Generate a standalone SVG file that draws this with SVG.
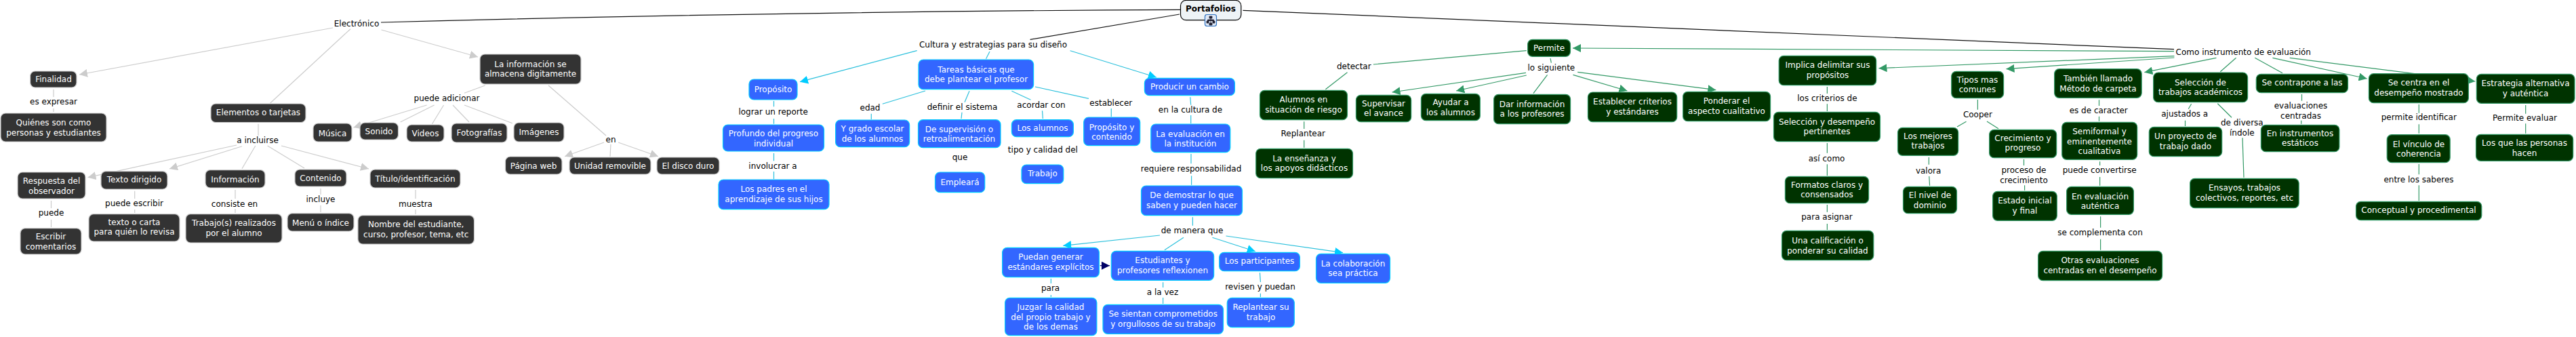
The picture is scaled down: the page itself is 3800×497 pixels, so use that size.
<svg xmlns="http://www.w3.org/2000/svg" width="3800" height="497" viewBox="0 0 3800 497">
<style>
text{font-family:"DejaVu Sans",Verdana,sans-serif;font-size:12px;text-anchor:middle;dominant-baseline:central}
.n rect{rx:7px;ry:7px;stroke-width:1.2}
.k rect{fill:#333;stroke:#ccc}.k text{fill:#fff}
.b rect{fill:#36f;stroke:#0cf}.b text{fill:#fff}
.g rect{fill:#030;stroke:#396}.g text{fill:#fff}
.l text{fill:#000}
#c line,#c path{fill:none;stroke-width:1.2}
.ck{stroke:#ccc}.cb{stroke:#2bc0dc}.cg{stroke:#396}.cp{stroke:#111}
.ak{marker-end:url(#ak)}.ab{marker-end:url(#ab)}.ag{marker-end:url(#ag)}
</style>
<defs>
<marker id="ak" markerUnits="userSpaceOnUse" markerWidth="13" markerHeight="12" refX="12" refY="6" orient="auto"><path d="M0 0L12 6L0 12z" fill="#ccc"/></marker>
<marker id="ab" markerUnits="userSpaceOnUse" markerWidth="13" markerHeight="12" refX="12" refY="6" orient="auto"><path d="M0 0L12 6L0 12z" fill="#0cf"/></marker>
<marker id="ag" markerUnits="userSpaceOnUse" markerWidth="13" markerHeight="12" refX="12" refY="6" orient="auto"><path d="M0 0L12 6L0 12z" fill="#396"/></marker>
<marker id="an" markerUnits="userSpaceOnUse" markerWidth="13" markerHeight="12" refX="12" refY="6" orient="auto"><path d="M0 0L12 6L0 12z" fill="#006"/></marker>
</defs>
<g id="c">
<path class="cp" d="M1741 14.3Q1150 17 562 33"/>
<line class="cp" x1="1740" y1="21" x2="1519.6" y2="58.3"/>
<path class="cp" d="M1833.5 15.3Q2500 42 3207 72.7"/>
<line class="ck ak" x1="491" y1="41" x2="117" y2="110"/>
<line class="ck" x1="517" y1="42.7" x2="398.7" y2="152"/>
<line class="ck ak" x1="562.5" y1="44" x2="705" y2="84"/>
<line class="ck" x1="79" y1="132" x2="79" y2="143"/>
<line class="ck" x1="79" y1="160" x2="79" y2="165"/>
<line class="ck" x1="381" y1="182.7" x2="381" y2="200"/>
<line class="ck ak" x1="349" y1="214" x2="129.5" y2="261.7"/>
<line class="ck ak" x1="357" y1="215.7" x2="250" y2="249"/>
<line class="ck" x1="376.8" y1="215" x2="357" y2="248.7"/>
<line class="ck" x1="394.6" y1="215" x2="449" y2="248"/>
<line class="ck ak" x1="415" y1="215" x2="544" y2="249"/>
<line class="ck ak" x1="629.5" y1="155" x2="521.4" y2="188"/>
<line class="ck" x1="640.6" y1="155" x2="590.6" y2="180"/>
<line class="ck" x1="654.5" y1="155" x2="637.5" y2="182.7"/>
<line class="ck" x1="668" y1="155" x2="692" y2="180"/>
<line class="ck" x1="685" y1="155" x2="755.8" y2="181.7"/>
<line class="ck" x1="685" y1="137.3" x2="715.6" y2="126"/>
<line class="ck" x1="809" y1="126" x2="894" y2="200"/>
<line class="ck ak" x1="891" y1="210" x2="833" y2="230.7"/>
<line class="ck" x1="901" y1="212.7" x2="900" y2="230.7"/>
<line class="ck ak" x1="912" y1="210" x2="971" y2="230.7"/>
<line class="ck" x1="75.5" y1="296" x2="75.5" y2="307"/>
<line class="ck" x1="75.5" y1="324" x2="75.5" y2="335"/>
<line class="ck" x1="198.7" y1="281.7" x2="198.7" y2="293"/>
<line class="ck" x1="198.7" y1="309" x2="198.7" y2="314"/>
<line class="ck" x1="347" y1="280" x2="347" y2="293"/>
<line class="ck" x1="347" y1="308" x2="347" y2="314"/>
<line class="ck" x1="473" y1="278" x2="473" y2="287"/>
<line class="ck" x1="473" y1="303" x2="473" y2="313"/>
<line class="ck" x1="613" y1="280" x2="613" y2="293"/>
<line class="ck" x1="613" y1="309" x2="613" y2="316"/>

<line class="cb ab" x1="1352.7" y1="74.7" x2="1180" y2="120.7"/>
<line class="cb" x1="1460" y1="76" x2="1454.5" y2="86.7"/>
<line class="cb ab" x1="1578.6" y1="74.7" x2="1705.8" y2="114"/>
<line class="cb" x1="1141.5" y1="149" x2="1141.5" y2="157.3"/>
<line class="cb" x1="1141.5" y1="175" x2="1141.5" y2="182.7"/>
<line class="cb" x1="1141.5" y1="226" x2="1141.5" y2="237.3"/>
<line class="cb" x1="1141.5" y1="253" x2="1141.5" y2="264"/>
<line class="cb" x1="1365" y1="134" x2="1301.8" y2="153.3"/>
<line class="cb" x1="1285.3" y1="167.7" x2="1285.3" y2="176"/>
<line class="cb" x1="1430" y1="134.3" x2="1423" y2="150.7"/>
<line class="cb" x1="1419" y1="165.7" x2="1418" y2="175"/>
<line class="cb" x1="1492.4" y1="134.3" x2="1520.5" y2="147.3"/>
<line class="cb" x1="1537.5" y1="163.3" x2="1538.4" y2="175"/>
<line class="cb" x1="1527" y1="128" x2="1606" y2="145.3"/>
<line class="cb" x1="1639.3" y1="160" x2="1639.3" y2="172"/>
<line class="cb" x1="1755.8" y1="143.3" x2="1756.7" y2="154.7"/>
<line class="cb" x1="1756.7" y1="170" x2="1756.7" y2="182"/>
<line class="cb" x1="1757" y1="227" x2="1757" y2="241.3"/>
<line class="cb" x1="1757.6" y1="259.3" x2="1757.6" y2="272.7"/>
<line class="cb" x1="1759.4" y1="320.3" x2="1759.4" y2="332.7"/>
<line class="cb ab" x1="1711" y1="347" x2="1568.3" y2="362.3"/>
<line class="cb" x1="1746" y1="350.3" x2="1717.9" y2="368.7"/>
<line class="cb ab" x1="1788.4" y1="350.3" x2="1851.8" y2="370.7"/>
<line class="cb ab" x1="1808.5" y1="348" x2="1981" y2="372.7"/>
<line class="cb" x1="1715.6" y1="416.3" x2="1715.6" y2="424"/>
<line class="cb" x1="1715.6" y1="439" x2="1715.6" y2="448"/>
<line class="cb" x1="1550.4" y1="411" x2="1550.4" y2="418"/>
<line class="cb" x1="1550.4" y1="435" x2="1550.4" y2="438"/>
<line x1="1622.8" y1="391.7" x2="1637" y2="391.7" style="stroke:#006;marker-end:url(#an)"/>
<line class="cb" x1="1858.5" y1="402.3" x2="1859.4" y2="416"/>
<line class="cb" x1="1859.4" y1="432.7" x2="1859.4" y2="438"/>

<line class="cg ag" x1="3207" y1="75.7" x2="2320" y2="71"/>
<line class="cg" x1="2251.8" y1="74.7" x2="2025.9" y2="95"/>
<line class="cg" x1="1987.5" y1="106.7" x2="1955.4" y2="131.7"/>
<line class="cg" x1="1923.7" y1="179.3" x2="1923.7" y2="190"/>
<line class="cg" x1="1923.7" y1="206.7" x2="1923.7" y2="217.7"/>
<line class="cg" x1="2287" y1="86" x2="2288.4" y2="92.7"/>
<line class="cg ag" x1="2250.9" y1="107.3" x2="2053.6" y2="136"/>
<line class="cg ag" x1="2251.8" y1="111" x2="2148.2" y2="134"/>
<line class="cg" x1="2282.6" y1="110.3" x2="2262" y2="137.7"/>
<line class="cg ag" x1="2320.5" y1="110.3" x2="2400.4" y2="134"/>
<line class="cg ag" x1="2327.2" y1="106.3" x2="2531.3" y2="132.7"/>
<line class="cg ag" x1="3207.4" y1="82.7" x2="2771.5" y2="100.7"/>
<line class="cg ag" x1="3207.4" y1="85" x2="2959.5" y2="101.7"/>
<line class="cg ag" x1="3269.4" y1="85.3" x2="3163.4" y2="106.7"/>
<line class="cg" x1="3298.6" y1="85.3" x2="3275.3" y2="105.7"/>
<line class="cg" x1="3326.3" y1="85.3" x2="3367" y2="107.7"/>
<line class="cg ag" x1="3352.4" y1="85.3" x2="3491.6" y2="116"/>
<line class="cg ag" x1="3377.7" y1="85.3" x2="3651.3" y2="120"/>
<line class="cg" x1="2695.4" y1="128" x2="2695.4" y2="138"/>
<line class="cg" x1="2695.4" y1="153.3" x2="2695.4" y2="164"/>
<line class="cg" x1="2695.4" y1="211" x2="2695.4" y2="225.7"/>
<line class="cg" x1="2695.4" y1="242.3" x2="2695.4" y2="259"/>
<line class="cg" x1="2695.4" y1="302" x2="2695.4" y2="312.7"/>
<line class="cg" x1="2695.4" y1="330" x2="2695.4" y2="339"/>
<line class="cg" x1="2917.4" y1="147" x2="2917.4" y2="161.7"/>
<line class="cg" x1="2900.5" y1="179.3" x2="2887" y2="187"/>
<line class="cg" x1="2931" y1="179" x2="2948" y2="189.7"/>
<line class="cg" x1="2845.4" y1="232" x2="2845.4" y2="242.7"/>
<line class="cg" x1="2845.8" y1="260" x2="2846.6" y2="273.7"/>
<line class="cg" x1="2985.5" y1="235" x2="2985.5" y2="244"/>
<line class="cg" x1="2986.6" y1="273.3" x2="2986.6" y2="280.7"/>
<line class="cg" x1="3096.5" y1="147.3" x2="3096.5" y2="156"/>
<line class="cg" x1="3096.5" y1="171.7" x2="3096.5" y2="178.7"/>
<line class="cg" x1="3097.6" y1="238.3" x2="3097.6" y2="244"/>
<line class="cg" x1="3097.6" y1="261" x2="3097.6" y2="273.7"/>
<line class="cg" x1="3098.6" y1="319.3" x2="3098.6" y2="335.7"/>
<line class="cg" x1="3098.6" y1="352.7" x2="3098.6" y2="368.7"/>
<line class="cg" x1="3232.6" y1="153.3" x2="3228.2" y2="160.7"/>
<line class="cg" x1="3223.5" y1="177.7" x2="3223.5" y2="186"/>
<line class="cg" x1="3271.3" y1="152.7" x2="3292" y2="173.3"/>
<line class="cg" x1="3308" y1="203.3" x2="3310" y2="261.7"/>
<line class="cg" x1="3395.5" y1="139" x2="3395.5" y2="148.7"/>
<line class="cg" x1="3394.7" y1="177.7" x2="3394.7" y2="182.7"/>
<line class="cg" x1="3568.3" y1="154" x2="3568.3" y2="166.7"/>
<line class="cg" x1="3568.3" y1="183.3" x2="3568.3" y2="196.7"/>
<line class="cg" x1="3568.3" y1="242" x2="3568.3" y2="257.3"/>
<line class="cg" x1="3568.3" y1="273.3" x2="3568.3" y2="296"/>
<line class="cg" x1="3725.7" y1="155" x2="3725.7" y2="167.7"/>
<line class="cg" x1="3725.7" y1="182.3" x2="3725.7" y2="196.7"/>
</g>

<g id="portafolios"><rect x="1741.5" y="0.5" width="89.3" height="29.2" rx="8" fill="#eef3f6" stroke="#000" stroke-width="1.2"/><text x="1786" y="13" style="font-weight:bold;fill:#000">Portafolios</text>
<g id="icono"><rect x="1777.5" y="21.5" width="17" height="17" rx="3" fill="#dfe8f5" stroke="#2a6fc0" stroke-width="1.2"/><path d="M1784 24h4v3h-4zM1780 31h3v3h-3zM1789 31h3v3h-3zM1784 34h4v3h-4zM1786 27v7M1781.5 31v-2h9v2" fill="#223" stroke="#223" stroke-width=".8"/></g></g>

<g class="n k" id="finalidad"><rect x="44.6" y="105" width="68.4" height="24"/><text x="79" y="116.7">Finalidad</text></g>
<g class="n k" id="quienes"><rect x="1" y="167" width="156" height="42"/><text x="79" y="181">Quiénes son como</text><text x="79" y="195.7">personas y estudiantes</text></g>
<g class="n k" id="elementos"><rect x="311" y="153" width="140" height="27.5"/><text x="381" y="166">Elementos o tarjetas</text></g>
<g class="n k" id="musica"><rect x="462" y="182" width="57" height="27"/><text x="490.5" y="196.7">Música</text></g>
<g class="n k" id="sonido"><rect x="531" y="181" width="56.5" height="25"/><text x="559" y="194">Sonido</text></g>
<g class="n k" id="videos"><rect x="600" y="184" width="55" height="25"/><text x="627.5" y="197">Videos</text></g>
<g class="n k" id="fotografias"><rect x="666" y="182" width="82" height="28"/><text x="707" y="196">Fotografías</text></g>
<g class="n k" id="imagenes"><rect x="758" y="181" width="74" height="28"/><text x="795" y="195">Imágenes</text></g>
<g class="n k" id="informacion-dig"><rect x="708" y="80" width="149" height="44"/><text x="782.5" y="95">La información se</text><text x="782.5" y="109.3">almacena digitamente</text></g>
<g class="n k" id="pagina"><rect x="745.5" y="231" width="83.5" height="26"/><text x="787" y="245">Página web</text></g>
<g class="n k" id="unidad"><rect x="840" y="232" width="120" height="25"/><text x="900" y="245">Unidad removible</text></g>
<g class="n k" id="disco"><rect x="969" y="232" width="92" height="25"/><text x="1015" y="245">El disco duro</text></g>
<g class="n k" id="respuesta"><rect x="26" y="254" width="100" height="39"/><text x="76" y="267">Respuesta del</text><text x="76" y="281.7">observador</text></g>
<g class="n k" id="texto-dirigido"><rect x="149" y="252.7" width="98" height="26.3"/><text x="198" y="265">Texto dirigido</text></g>
<g class="n k" id="informacion"><rect x="303" y="250.7" width="88" height="26.3"/><text x="347" y="264.7">Información</text></g>
<g class="n k" id="contenido"><rect x="435" y="250" width="76" height="25"/><text x="473" y="263">Contenido</text></g>
<g class="n k" id="titulo"><rect x="546" y="250" width="133" height="27"/><text x="612.5" y="263.7">Título/identificación</text></g>
<g class="n k" id="escribir"><rect x="30" y="336.7" width="90" height="38.3"/><text x="75" y="349">Escribir</text><text x="75" y="363.7">comentarios</text></g>
<g class="n k" id="texto-carta"><rect x="131" y="315.7" width="134" height="40.3"/><text x="198" y="327.7">texto o carta</text><text x="198" y="342.3">para quién lo revisa</text></g>
<g class="n k" id="trabajos"><rect x="274" y="315.7" width="142" height="42.3"/><text x="345" y="329">Trabajo(s) realizados</text><text x="345" y="343.7">por el alumno</text></g>
<g class="n k" id="menu"><rect x="424" y="314.7" width="98" height="26.3"/><text x="473" y="328.7">Menú o índice</text></g>
<g class="n k" id="nombre"><rect x="528" y="317.7" width="171.5" height="42.3"/><text x="613.7" y="331">Nombre del estudiante,</text><text x="613.7" y="345.7">curso, profesor, tema, etc</text></g>

<g class="n b" id="proposito"><rect x="1105" y="117" width="71" height="30"/><text x="1140.5" y="131.7">Propósito</text></g>
<g class="n b" id="profundo"><rect x="1066.5" y="184" width="149" height="39"/><text x="1141" y="197">Profundo del progreso</text><text x="1141" y="211.7">individual</text></g>
<g class="n b" id="grado"><rect x="1232.6" y="177" width="109" height="39.7"/><text x="1287" y="190">Y grado escolar</text><text x="1287" y="204.7">de los alumnos</text></g>
<g class="n b" id="padres"><rect x="1060" y="265" width="163" height="43.7"/><text x="1141.5" y="279">Los padres en el</text><text x="1141.5" y="294">aprendizaje de sus hijos</text></g>
<g class="n b" id="tareas"><rect x="1355" y="88" width="169.6" height="43.7"/><text x="1440" y="103">Tareas básicas que</text><text x="1440" y="117.3">debe plantear el profesor</text></g>
<g class="n b" id="supervision"><rect x="1354.5" y="176.7" width="121.5" height="41"/><text x="1415" y="190.7">De supervisión o</text><text x="1415" y="205.3">retroalimentación</text></g>
<g class="n b" id="alumnos"><rect x="1492.4" y="176.7" width="91" height="25"/><text x="1538" y="189">Los alumnos</text></g>
<g class="n b" id="proposito-contenido"><rect x="1598.7" y="173" width="83" height="41.7"/><text x="1640" y="187.7">Propósito y</text><text x="1640" y="202.3">contenido</text></g>
<g class="n b" id="producir"><rect x="1688.4" y="115.3" width="133" height="25.4"/><text x="1755" y="128">Producir un cambio</text></g>
<g class="n b" id="evaluacion-inst"><rect x="1697.8" y="183" width="117" height="41.7"/><text x="1756" y="197.7">La evaluación en</text><text x="1756" y="212.3">la institución</text></g>
<g class="n b" id="trabajo"><rect x="1507" y="243" width="61.8" height="27.7"/><text x="1538" y="256">Trabajo</text></g>
<g class="n b" id="empleara"><rect x="1379.5" y="254" width="73.2" height="29.7"/><text x="1416" y="268.7">Empleará</text></g>
<g class="n b" id="demostrar"><rect x="1683.5" y="274" width="149" height="43.7"/><text x="1758" y="288.3">De demostrar lo que</text><text x="1758" y="302.7">saben y pueden hacer</text></g>
<g class="n b" id="puedan"><rect x="1478.6" y="365.3" width="142.8" height="43.4"/><text x="1550" y="379">Puedan generar</text><text x="1550" y="393.7">estándares explícitos</text></g>
<g class="n b" id="juzgar"><rect x="1482.6" y="439.3" width="135.3" height="55.4"/><text x="1550" y="453">Juzgar la calidad</text><text x="1550" y="467.7">del propio trabajo y</text><text x="1550" y="482.3">de los demas</text></g>
<g class="n b" id="estudiantes"><rect x="1639.3" y="370.3" width="151.3" height="43"/><text x="1715" y="384">Estudiantes y</text><text x="1715" y="398.7">profesores reflexionen</text></g>
<g class="n b" id="sientan"><rect x="1627" y="449.3" width="177.5" height="43"/><text x="1715.7" y="463">Se sientan comprometidos</text><text x="1715.7" y="477.7">y orgullosos de su trabajo</text></g>
<g class="n b" id="participantes"><rect x="1798.7" y="372.3" width="118.7" height="27.4"/><text x="1858" y="384.7">Los participantes</text></g>
<g class="n b" id="replantear-su"><rect x="1810.3" y="439.3" width="99" height="43.4"/><text x="1860" y="453">Replantear su</text><text x="1860" y="467.7">trabajo</text></g>
<g class="n b" id="colaboracion"><rect x="1941.5" y="374.3" width="109" height="43"/><text x="1996" y="389">La colaboración</text><text x="1996" y="403.3">sea práctica</text></g>

<g class="n g" id="alumnos-riesgo"><rect x="1858.5" y="133.3" width="129" height="43.4"/><text x="1923" y="147">Alumnos en</text><text x="1923" y="161.7">situación de riesgo</text></g>
<g class="n g" id="ensenanza"><rect x="1852.7" y="219.3" width="142.8" height="43.4"/><text x="1924" y="233.7">La enseñanza y</text><text x="1924" y="248">los apoyos didácticos</text></g>
<g class="n g" id="supervisar"><rect x="2000.4" y="140.3" width="81.3" height="39.4"/><text x="2041" y="152.7">Supervisar</text><text x="2041" y="167.3">el avance</text></g>
<g class="n g" id="ayudar"><rect x="2096.4" y="138.3" width="87" height="39.4"/><text x="2140" y="151">Ayudar a</text><text x="2140" y="165.7">los alumnos</text></g>
<g class="n g" id="dar-info"><rect x="2203.6" y="139.3" width="113" height="43.4"/><text x="2260" y="153.7">Dar información</text><text x="2260" y="168.3">a los profesores</text></g>
<g class="n g" id="establecer-criterios"><rect x="2342.4" y="136" width="131.3" height="43.7"/><text x="2408" y="150">Establecer criterios</text><text x="2408" y="164.7">y estándares</text></g>
<g class="n g" id="ponderar"><rect x="2482.6" y="135.3" width="129" height="43.4"/><text x="2547" y="149">Ponderar el</text><text x="2547" y="163.7">aspecto cualitativo</text></g>
<g class="n g" id="permite"><rect x="2253.6" y="58.3" width="62.9" height="25"/><text x="2285" y="71.3">Permite</text></g>
<g class="n g" id="implica"><rect x="2624.2" y="82.3" width="143.5" height="43.4"/><text x="2696" y="96">Implica delimitar sus</text><text x="2696" y="110.7">propósitos</text></g>
<g class="n g" id="seleccion-desempeno"><rect x="2616.5" y="165.3" width="157" height="43.4"/><text x="2695" y="179.7">Selección y desempeño</text><text x="2695" y="194.3">pertinentes</text></g>
<g class="n g" id="formatos"><rect x="2633.4" y="260.3" width="123.2" height="39.4"/><text x="2695" y="272.7">Formatos claros y</text><text x="2695" y="287.3">consensados</text></g>
<g class="n g" id="calificacion"><rect x="2628.5" y="340.3" width="135.3" height="43.4"/><text x="2696" y="355">Una calificación o</text><text x="2696" y="369.7">ponderar su calidad</text></g>
<g class="n g" id="tipos"><rect x="2878.7" y="105.3" width="76.9" height="39.4"/><text x="2917" y="117.7">Tipos mas</text><text x="2917" y="132.3">comunes</text></g>
<g class="n g" id="mejores"><rect x="2799.5" y="188.3" width="89.2" height="41"/><text x="2844" y="201">Los mejores</text><text x="2844" y="215.3">trabajos</text></g>
<g class="n g" id="crecimiento"><rect x="2934.6" y="191.3" width="99.1" height="41.4"/><text x="2984" y="203.7">Crecimiento y</text><text x="2984" y="218.3">progreso</text></g>
<g class="n g" id="nivel"><rect x="2807.5" y="275.3" width="79" height="39.4"/><text x="2847" y="288">El nivel de</text><text x="2847" y="302.7">dominio</text></g>
<g class="n g" id="estado"><rect x="2939.6" y="282.3" width="94.7" height="43"/><text x="2987" y="296.3">Estado inicial</text><text x="2987" y="311">y final</text></g>
<g class="n g" id="tambien"><rect x="3030.6" y="101.7" width="128.6" height="42.6"/><text x="3095" y="116">También llamado</text><text x="3095" y="130.7">Método de carpeta</text></g>
<g class="n g" id="semiformal"><rect x="3041.7" y="180.3" width="111" height="55"/><text x="3097" y="194">Semiformal y</text><text x="3097" y="208.7">eminentemente</text><text x="3097" y="223.3">cualitativa</text></g>
<g class="n g" id="autentica"><rect x="3048.6" y="275.3" width="98.8" height="41"/><text x="3098" y="289.7">En evaluación</text><text x="3098" y="304.3">auténtica</text></g>
<g class="n g" id="otras"><rect x="3006.6" y="370.3" width="183" height="43.4"/><text x="3098" y="384.3">Otras evaluaciones</text><text x="3098" y="399">centradas en el desempeño</text></g>
<g class="n g" id="seleccion-trabajos"><rect x="3176.6" y="107" width="139" height="43.7"/><text x="3246" y="121.7">Selección de</text><text x="3246" y="136.3">trabajos académicos</text></g>
<g class="n g" id="contrapone"><rect x="3328.3" y="109.3" width="135.2" height="27.4"/><text x="3396" y="122">Se contrapone a las</text></g>
<g class="n g" id="estaticos"><rect x="3335.4" y="184.3" width="115.5" height="39.4"/><text x="3393" y="196.7">En instrumentos</text><text x="3393" y="211.3">estáticos</text></g>
<g class="n g" id="proyecto"><rect x="3170.3" y="187.3" width="107.4" height="43.4"/><text x="3224" y="201.3">Un proyecto de</text><text x="3224" y="216">trabajo dado</text></g>
<g class="n g" id="ensayos"><rect x="3230.6" y="263.3" width="160.6" height="43.4"/><text x="3311" y="277.3">Ensayos, trabajos</text><text x="3311" y="291.7">colectivos, reportes, etc</text></g>
<g class="n g" id="centra"><rect x="3494.4" y="108.7" width="147" height="43"/><text x="3568" y="122">Se centra en el</text><text x="3568" y="136.7">desempeño mostrado</text></g>
<g class="n g" id="vinculo"><rect x="3521.2" y="198.7" width="93" height="41"/><text x="3568" y="212.7">El vínculo de</text><text x="3568" y="227">coherencia</text></g>
<g class="n g" id="conceptual"><rect x="3475.5" y="297.3" width="185.3" height="27.4"/><text x="3568" y="310">Conceptual y procedimental</text></g>
<g class="n g" id="estrategia"><rect x="3653.3" y="109.3" width="144.7" height="43"/><text x="3725.5" y="122.7">Estrategia alternativa</text><text x="3725.5" y="137.7">y auténtica</text></g>
<g class="n g" id="personas"><rect x="3652.5" y="198.3" width="143.2" height="39"/><text x="3724" y="211.3">Los que las personas</text><text x="3724" y="225.7">hacen</text></g>

<g class="l" id="labels">
<g id="l-electronico"><text x="526" y="34.7">Electrónico</text></g>
<g id="l-expresar"><text x="79" y="149.7">es expresar</text></g>
<g id="l-incluirse"><text x="380" y="207">a incluirse</text></g>
<g id="l-adicionar"><text x="659" y="145">puede adicionar</text></g>
<g id="l-en"><text x="901" y="206">en</text></g>
<g id="l-puede"><text x="75.5" y="314.3">puede</text></g>
<g id="l-escribir"><text x="198" y="300">puede escribir</text></g>
<g id="l-consiste"><text x="346" y="300.7">consiste en</text></g>
<g id="l-incluye"><text x="473" y="294">incluye</text></g>
<g id="l-muestra"><text x="613" y="301">muestra</text></g>
<g id="l-cultura"><text x="1465" y="66.3">Cultura y estrategias para su diseño</text></g>
<g id="l-lograr"><text x="1140.6" y="165.3">lograr un reporte</text></g>
<g id="l-involucrar"><text x="1140" y="245">involucrar a</text></g>
<g id="l-edad"><text x="1283.5" y="159.3">edad</text></g>
<g id="l-definir"><text x="1419.5" y="158">definir el sistema</text></g>
<g id="l-acordar"><text x="1536" y="155.3">acordar con</text></g>
<g id="l-establecer"><text x="1638.8" y="152">establecer</text></g>
<g id="l-cultura-de"><text x="1756" y="162">en la cultura de</text></g>
<g id="l-tipo"><text x="1538.4" y="221">tipo y calidad del</text></g>
<g id="l-que"><text x="1416" y="232">que</text></g>
<g id="l-requiere"><text x="1757" y="249">requiere responsabilidad</text></g>
<g id="l-manera"><text x="1758.5" y="340">de manera que</text></g>
<g id="l-para"><text x="1549.6" y="425">para</text></g>
<g id="l-vez"><text x="1715" y="431">a la vez</text></g>
<g id="l-revisen"><text x="1859" y="423">revisen y puedan</text></g>
<g id="l-siguiente"><text x="2288.4" y="100">lo siguiente</text></g>
<g id="l-detectar"><text x="1997.3" y="98">detectar</text></g>
<g id="l-replantear"><text x="1922.3" y="197">Replantear</text></g>
<g id="l-criterios"><text x="2695.4" y="145">los criterios de</text></g>
<g id="l-asi"><text x="2694.6" y="234">así como</text></g>
<g id="l-asignar"><text x="2695" y="320">para asignar</text></g>
<g id="l-cooper"><text x="2917.4" y="169">Cooper</text></g>
<g id="l-valora"><text x="2844.6" y="252">valora</text></g>
<g id="l-proceso"><text x="2985.5" y="251.3">proceso de</text><text x="2985.5" y="265.7">crecimiento</text></g>
<g id="l-caracter"><text x="3095.7" y="163.3">es de caracter</text></g>
<g id="l-convertirse"><text x="3097.2" y="251.3">puede convertirse</text></g>
<g id="l-complementa"><text x="3098" y="343.3">se complementa con</text></g>
<g id="l-como"><text x="3309.3" y="76.7">Como instrumento de evaluación</text></g>
<g id="l-ajustados"><text x="3222.7" y="168">ajustados a</text></g>
<g id="l-diversa"><text x="3307.3" y="180.7">de diversa</text><text x="3307.3" y="195.7">índole</text></g>
<g id="l-evaluaciones"><text x="3394" y="156.3">evaluaciones</text><text x="3394" y="171">centradas</text></g>
<g id="l-identificar"><text x="3568.3" y="173.3">permite identificar</text></g>
<g id="l-saberes"><text x="3568" y="265">entre los saberes</text></g>
<g id="l-evaluar"><text x="3724.5" y="174">Permite evaluar</text></g>
</g>
</svg>
